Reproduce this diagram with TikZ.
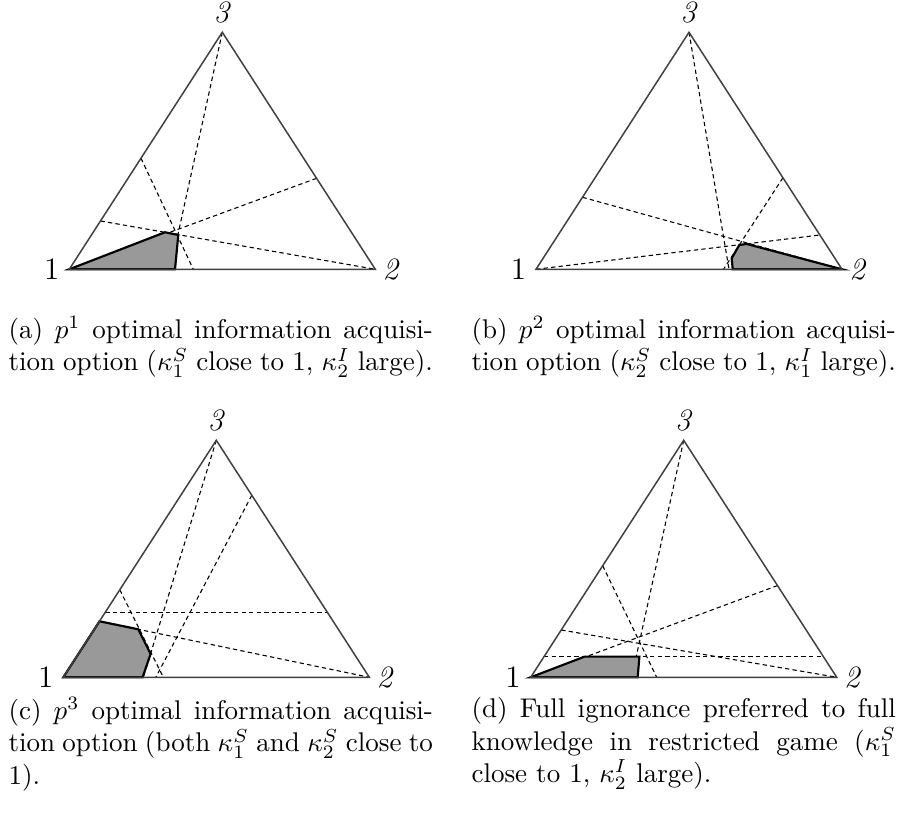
\documentclass[tikz,border=0pt]{standalone}
\usetikzlibrary{positioning}
\tikzset{
  simplex/.style={line width=0.55pt, color=black!75},
  cutline/.style={line width=0.4pt, dash pattern=on 1.6pt off 1.2pt},
  region/.style={line width=0.8pt, draw=black, fill=black!40},
  corner/.style={font=\fontsize{11.5}{13}\selectfont, inner sep=0pt},
  subcap/.style={anchor=north west, inner sep=0pt, text width=157pt, align=justify, font=\normalsize}
}
\begin{document}
\begin{tikzpicture}[x=0.013cm, y=0.013cm]
        \useasboundingbox (0,0) rectangle (904,821);

        \begin{scope}[shift={(69.3,551.7)}]
          \coordinate (a1) at (0,0);
          \coordinate (a2) at (306,0);
          \coordinate (a3) at (153,237);
          % Dashed boundaries
          \draw[cutline] (a3) -- (101,0);
          \draw[cutline] (71.7,111) -- (124,0);
          \draw[cutline] (31.2,48.3) -- (a2);
          \draw[cutline] (247.3,91) -- (a1);
          % Region
          \filldraw[region] (a1) -- (95.7,37) -- (109,34.3) -- (105.7,0) -- cycle;
          % Simplex
          \draw[simplex] (a1) -- (a2) -- (a3) -- cycle;
          \node[corner, left=3.5pt of a1] (a-one) {1};
          \node[corner, right=2.5pt of a2] (a-two) {\textit{2}};
          \node[corner, above=3pt of a3] (a-three) {\textit{3}};
        \end{scope}

        \begin{scope}[shift={(536,551.7)}]
          \coordinate (b1) at (0,0);
          \coordinate (b2) at (306,0);
          \coordinate (b3) at (153,237);
          % Dashed boundaries
          \draw[cutline] (b3) -- (193,0);
          \draw[cutline] (246.9,91.5) -- (187.5,0);
          \draw[cutline] (46.5,72) -- (b2);
          \draw[cutline] (b1) -- (284,34.3);
          % Region
          \filldraw[region] (196.7,0) -- (195.7,11) -- (203.3,24.3) -- (210.7,25.3) -- (b2) -- cycle;
          % Simplex
          \draw[simplex] (b1) -- (b2) -- (b3) -- cycle;
          \node[corner, left=3.5pt of b1] (b-one) {1};
          \node[corner, right=2.5pt of b2] (b-two) {\textit{2}};
          \node[corner, above=3pt of b3] (b-three) {\textit{3}};
        \end{scope}

        \begin{scope}[shift={(63.3,143.7)}]
          \coordinate (c1) at (0,0);
          \coordinate (c2) at (306,0);
          \coordinate (c3) at (153,237);
          % Dashed boundaries
          \draw[cutline] (c3) -- (80,0);
          \draw[cutline] (188.5,182) -- (92.5,0);
          \draw[cutline] (56.5,87.5) -- (100,0);
          \draw[cutline] (42,65) -- (264,65);
          \draw[cutline] (36.2,56) -- (c2);
          % Region
          \filldraw[region] (c1) -- (36.2,56) -- (75,48) -- (87.3,23.3) -- (79.3,0) -- cycle;
          % Simplex
          \draw[simplex] (c1) -- (c2) -- (c3) -- cycle;
          \node[corner, left=3.5pt of c1] (c-one) {1};
          \node[corner, right=2.5pt of c2] (c-two) {\textit{2}};
          \node[corner, above=3pt of c3] (c-three) {\textit{3}};
        \end{scope}

        \begin{scope}[shift={(530.7,143.7)}]
          \coordinate (d1) at (0,0);
          \coordinate (d2) at (306,0);
          \coordinate (d3) at (153,237);
          % Dashed boundaries
          \draw[cutline] (d3) -- (101,0);
          \draw[cutline] (72,111.5) -- (126,0);
          \draw[cutline] (30.5,47.3) -- (d2);
          \draw[cutline] (246.8,91.7) -- (d1);
          \draw[cutline] (13.4,20.7) -- (292.6,20.7);
          % Region
          \filldraw[region] (d1) -- (54,20.7) -- (108.7,20.7) -- (107,0) -- cycle;
          % Simplex
          \draw[simplex] (d1) -- (d2) -- (d3) -- cycle;
          \node[corner, left=3.5pt of d1] (d-one) {1};
          \node[corner, right=2.5pt of d2] (d-two) {\textit{2}};
          \node[corner, above=3pt of d3] (d-three) {\textit{3}};
        \end{scope}

        % Captions
        \node[subcap] (cap-a) at (8,505) {(a) $p^1$ optimal information acquisi-\linebreak tion option ($\kappa_1^S$ close to 1, $\kappa_2^I$ large).};
        \node[subcap] (cap-b) at (471,505) {(b) $p^2$ optimal information acquisi-\linebreak tion option ($\kappa_2^S$ close to 1, $\kappa_1^I$ large).};
        \node[subcap] (cap-c) at (8,124) {(c) $p^3$ optimal information acquisi-\linebreak tion option (both $\kappa_1^S$ and $\kappa_2^S$ close to\linebreak 1).};
        \node[subcap] (cap-d) at (471,124) {(d) Full ignorance preferred to full\linebreak knowledge in restricted game ($\kappa_1^S$\linebreak close to 1, $\kappa_2^I$ large).};
      \end{tikzpicture}
\end{document}
